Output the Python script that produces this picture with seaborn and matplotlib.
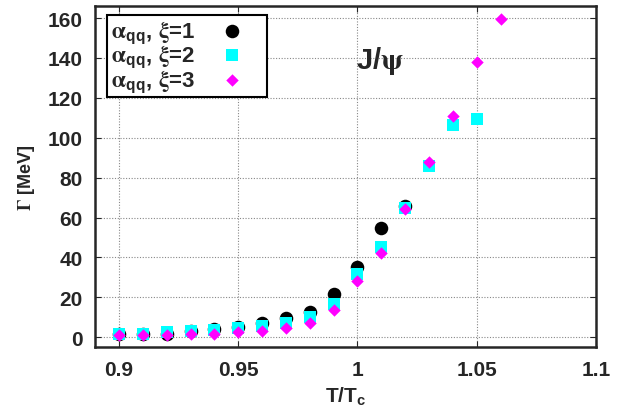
import pandas as pd
import matplotlib
matplotlib.use("Agg")
import matplotlib.pyplot as plt
import seaborn as sns

# Gamma [MeV] vs T/Tc for three xi values
t_xi1 = [0.90, 0.91, 0.92, 0.93, 0.94, 0.95, 0.96, 0.97, 0.98, 0.99, 1.00, 1.01, 1.02]
g_xi1 = [1.5, 1.5, 1.5, 3.0, 4.0, 5.0, 7.0, 9.5, 12.5, 21.5, 35.0, 54.7, 65.7]

t_xi2 = [0.90, 0.91, 0.92, 0.93, 0.94, 0.95, 0.96, 0.97, 0.98, 0.99, 1.00, 1.01, 1.02, 1.03, 1.04, 1.05]
g_xi2 = [1.5, 1.5, 2.5, 3.0, 3.5, 4.5, 5.5, 7.0, 10.0, 16.5, 31.5, 45.0, 65.0, 85.7, 106.5, 109.3]

t_xi3 = [0.90, 0.91, 0.92, 0.93, 0.94, 0.95, 0.96, 0.97, 0.98, 0.99, 1.00, 1.01, 1.02, 1.03, 1.04, 1.05, 1.06]
g_xi3 = [1.0, 1.0, 1.0, 1.5, 1.5, 2.5, 3.0, 4.5, 7.0, 13.5, 28.0, 42.0, 64.5, 87.7, 111.0, 138.0, 159.3]

labels = [r'$\alpha_{\mathbf{qq}}$, $\xi$=1', r'$\alpha_{\mathbf{qq}}$, $\xi$=2', r'$\alpha_{\mathbf{qq}}$, $\xi$=3']
x_ticks = [0.9, 0.95, 1.0, 1.05, 1.1]
x_tick_labels = ['0.9', '0.95', '1', '1.05', '1.1']
y_ticks = [0, 20, 40, 60, 80, 100, 120, 140, 160]

sns.set_style("ticks")
plt.rcParams['font.family'] = ['Liberation Sans', 'DejaVu Sans']
plt.rcParams['font.weight'] = 'bold'
plt.rcParams['mathtext.fontset'] = 'custom'
plt.rcParams['mathtext.rm'] = 'STIXGeneral'
plt.rcParams['mathtext.it'] = 'STIXGeneral'
plt.rcParams['mathtext.bf'] = 'Liberation Sans:bold'
plt.rcParams['mathtext.default'] = 'rm'

fig = plt.figure(figsize=(6.26, 4.14), dpi=100)
ax = fig.add_axes([0.152, 0.159, 0.800, 0.824])

ax.grid(True, color='#888888', linestyle=(0, (1, 1.5)), linewidth=0.8)
ax.set_axisbelow(True)

sns.scatterplot(x=t_xi1, y=g_xi1, ax=ax, color='black', marker='o', s=95,
                linewidth=0, label=labels[0], zorder=3)
sns.scatterplot(x=t_xi2, y=g_xi2, ax=ax, color='#00ffff', marker='s', s=80,
                linewidth=0, label=labels[1], zorder=4)
sns.scatterplot(x=t_xi3, y=g_xi3, ax=ax, color='#ff00ff', marker='D', s=40,
                linewidth=0, label=labels[2], zorder=5)

ax.set_xlim(0.89, 1.1)
ax.set_ylim(-5, 166)
ax.set_xticks(x_ticks)
ax.set_xticklabels(x_tick_labels)
ax.set_yticks(y_ticks)
ax.tick_params(direction='in', top=True, right=True, labelsize=15, length=4, pad=9)
for lab in ax.get_xticklabels() + ax.get_yticklabels():
    lab.set_fontweight('bold')
for sp in ax.spines.values():
    sp.set_linewidth(1.8)

ax.set_xlabel(r'$\mathbf{T/T_c}$', fontsize=15, labelpad=4)
ax.set_ylabel(r'$\Gamma$ [MeV]', fontsize=13, fontweight='bold', labelpad=8)

ax.text(0.9995, 139, r'J/$\psi$', fontsize=21, fontweight='bold', ha='left', va='center')

leg = ax.legend(loc='upper left', bbox_to_anchor=(0.024, 0.975), markerfirst=False,
                fontsize=16, frameon=True, fancybox=False, edgecolor='black',
                framealpha=1, borderaxespad=0.0, handletextpad=0.2,
                labelspacing=-0.1, borderpad=0.15, handlelength=2.9)
leg.get_frame().set_linewidth(1.5)

plt.savefig('out.png', dpi=100)
